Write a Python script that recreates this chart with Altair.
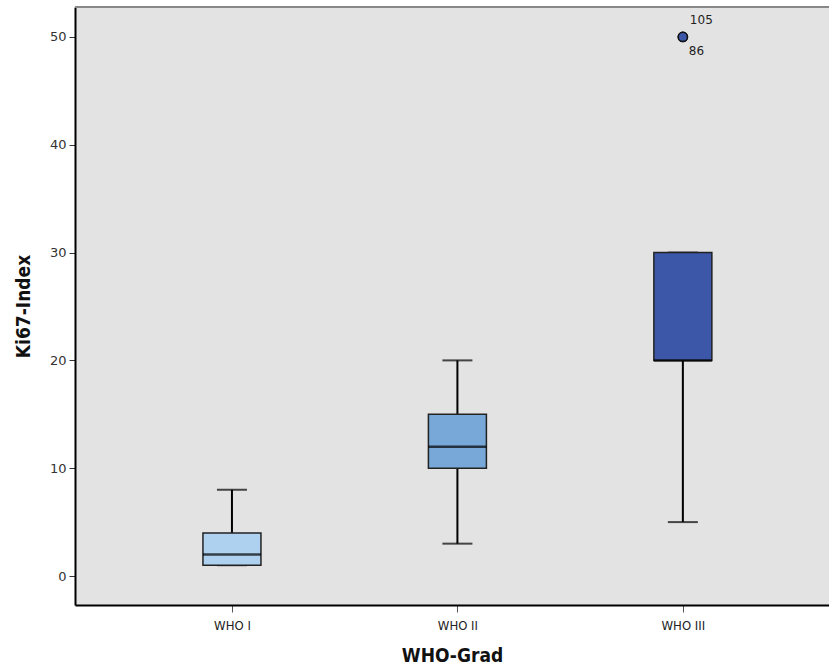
import altair as alt
import pandas as pd

categories = ["WHO I", "WHO II", "WHO III"]
positions = [1, 2, 3]
whisker_low = [1, 3, 5]
q1 = [1, 10, 20]
median = [2, 12, 20]
q3 = [4, 15, 30]
whisker_high = [8, 20, 30]
colors = ["#AED1F0", "#78A8D8", "#3C56A8"]

outlier_cat = ["WHO III", "WHO III"]
outlier_pos = [3, 3]
outlier_val = [50, 50]
outlier_id = ["105", "86"]

df = pd.DataFrame({
    "cat": categories, "pos": positions, "lo": whisker_low, "q1": q1,
    "med": median, "q3": q3, "hi": whisker_high,
})
odf = pd.DataFrame({"cat": outlier_cat, "pos": outlier_pos, "val": outlier_val, "id": outlier_id})

FONT_C = "Liberation Sans Narrow, DejaVu Sans Condensed, sans-serif"

xscale = alt.Scale(domain=[0.326, 3.626], nice=False, zero=False)
yscale = alt.Scale(domain=[-2.69, 52.78], nice=False, zero=False)

label_expr = "datum.value == 1 ? 'WHO I' : datum.value == 2 ? 'WHO II' : 'WHO III'"
xax = alt.Axis(values=[1, 2, 3], labelExpr=label_expr, title="WHO-Grad", grid=False,
               domainColor="#000000", domainWidth=2, tickColor="#555555", tickSize=7,
               labelFont=FONT_C, labelFontSize=13, labelColor="#222222", labelPadding=7,
               titleFont=FONT_C, titleFontSize=19, titleFontWeight="bold", titlePadding=14,
               titleColor="#111111")
yax = alt.Axis(values=[0, 10, 20, 30, 40, 50], title="Ki67-Index", grid=False,
               domainColor="#000000", domainWidth=2, tickColor="#333333", tickSize=6,
               labelFont="DejaVu Sans, sans-serif", labelFontSize=13, labelColor="#333333",
               labelPadding=3, titleFont=FONT_C, titleFontSize=19, titleFontWeight="bold",
               titleColor="#111111", titleX=-42)

X = alt.X("pos:Q", scale=xscale, axis=xax)
color = alt.Color("cat:N", scale=alt.Scale(domain=categories, range=colors), legend=None)

base = alt.Chart(df)
whisk = base.mark_rule(color="#000000", strokeWidth=2).encode(
    x=X, y=alt.Y("lo:Q", scale=yscale, axis=yax), y2="hi:Q")
caps_lo = base.mark_tick(orient="horizontal", size=30, thickness=2, color="#000000").encode(
    x=X, y=alt.Y("lo:Q", scale=yscale))
caps_hi = base.mark_tick(orient="horizontal", size=30, thickness=2, color="#000000").encode(
    x=X, y=alt.Y("hi:Q", scale=yscale))
box = base.mark_bar(size=58, stroke="#222222", strokeWidth=1.5).encode(
    x=X, y=alt.Y("q1:Q", scale=yscale), y2="q3:Q", color=color)
med = base.mark_tick(orient="horizontal", size=58, thickness=2.5, color="#000000").encode(
    x=X, y=alt.Y("med:Q", scale=yscale))

obase = alt.Chart(odf)
pts = obase.mark_point(filled=True, size=85, fill="#3C56A8", stroke="#111111",
                       strokeWidth=1.5, opacity=1).encode(
    x=X, y=alt.Y("val:Q", scale=yscale))
lab1 = obase.transform_filter(alt.datum.id == "105").mark_text(
    align="left", baseline="middle", dx=7, dy=-17, font="DejaVu Sans, sans-serif",
    fontSize=12, color="#222222").encode(x=X, y=alt.Y("val:Q", scale=yscale), text="id:N")
lab2 = obase.transform_filter(alt.datum.id == "86").mark_text(
    align="left", baseline="middle", dx=6, dy=14, font="DejaVu Sans, sans-serif",
    fontSize=12, color="#222222").encode(x=X, y=alt.Y("val:Q", scale=yscale), text="id:N")

topline = alt.Chart(df).mark_rule(color="#888888", strokeWidth=2).encode(
    x=alt.value(0), x2=alt.value(754), y=alt.value(0))

chart = alt.layer(topline, whisk, caps_lo, caps_hi, box, med, pts, lab1, lab2).properties(
    width=754, height=598,
    autosize=alt.AutoSizeParams(type="none"),
    padding={"left": 75, "top": 7, "right": 0, "bottom": 63},
    background="#FFFFFF",
).configure_view(fill="#E3E3E3", stroke=None)

chart.save("out.html", embed_options={"renderer": "svg", "actions": False})
